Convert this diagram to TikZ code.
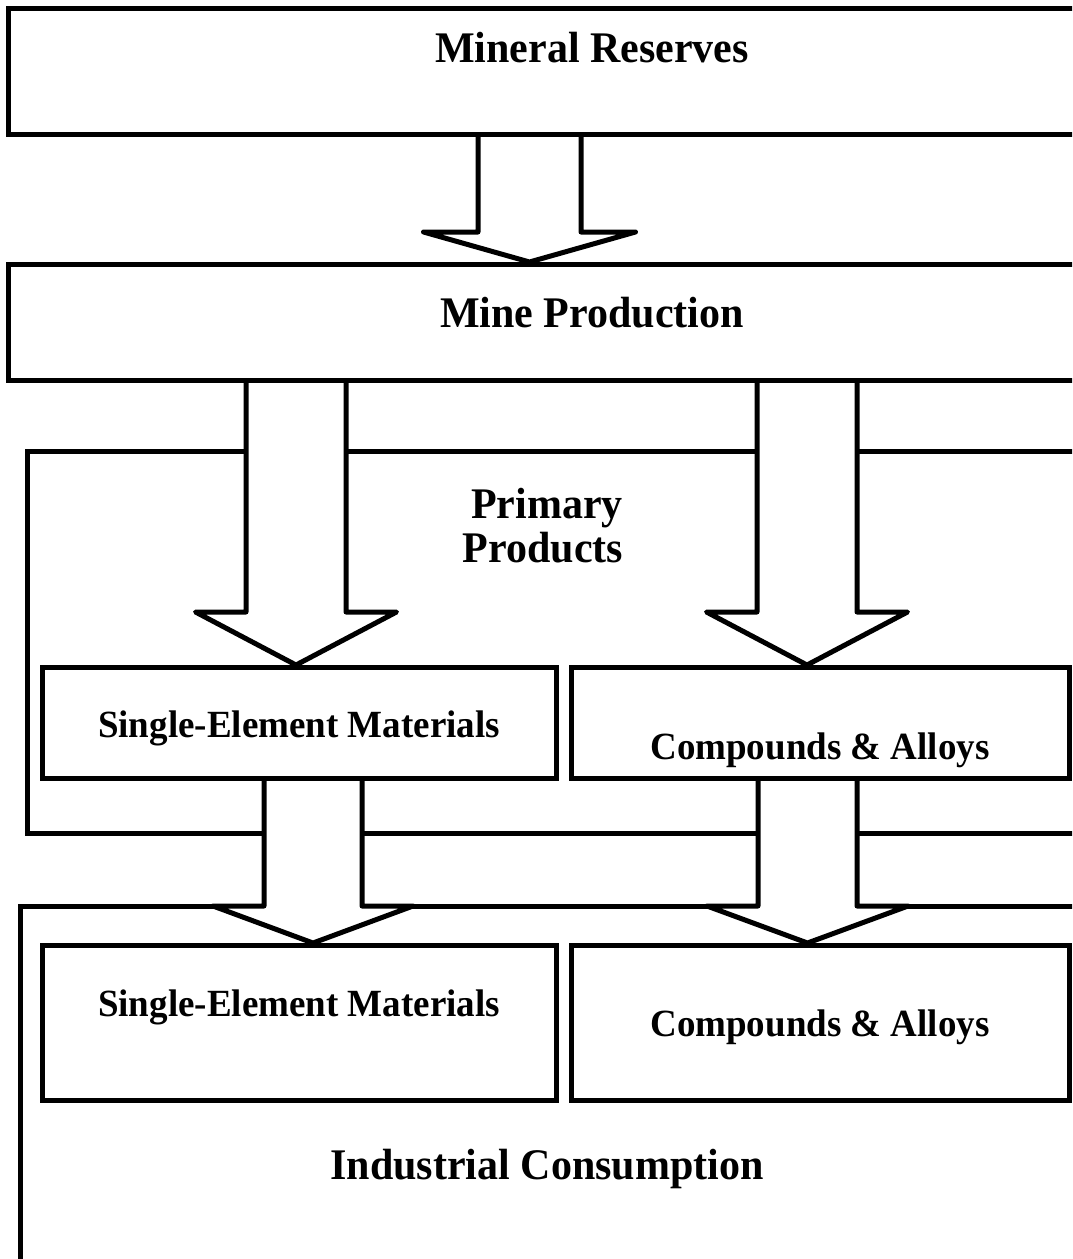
\documentclass[tikz,border=0pt]{standalone}
\usepackage{fontspec}
\setmainfont{Liberation Serif}
\newcommand\blkarrow[6]{% center x, top y, head y, tip y, half shaft, half head
  \fill[white] ({#1-#5},{#2+3}) -- ({#1-#5},#3) -- ({#1-#6},#3) -- (#1,#4) -- ({#1+#6},#3) -- ({#1+#5},#3) -- ({#1+#5},{#2+3}) -- cycle;
  \draw[arrowline] ({#1-#5},#2) -- ({#1-#5},#3) -- ({#1-#6},#3) -- (#1,#4) -- ({#1+#6},#3) -- ({#1+#5},#3) -- ({#1+#5},#2);
}
\begin{document}
\begin{tikzpicture}[x=1pt,y=-1pt,
  frame/.style={draw, line width=5pt},
  box/.style={draw, line width=5pt, inner sep=0pt, fill=white},
  arrowline/.style={line width=5pt, line join=round},
  lbl/.style={font=\bfseries\fontsize{42}{43}\selectfont, anchor=base, inner sep=0pt, yscale=1.04},
  slbl/.style={font=\bfseries\fontsize{37}{38}\selectfont, anchor=base, inner sep=0pt, yscale=1.04}]
\useasboundingbox (0,0) rectangle (1072,1259);
\clip (0,0) rectangle (1072,1259);
\fill[white] (0,0) rectangle (1072,1259);

% large frames (cut off at the right / bottom)
\draw[frame] (8,8) rectangle (1110,134);
\draw[frame] (8,264.5) rectangle (1110,380.5);
\draw[frame] (27,451) rectangle (1110,833);
\draw[frame] (20,906) rectangle (1110,1320);

% small boxes
\node[box, minimum width=514pt, minimum height=111pt] (se1) at (299,722.5) {};
\node[box, minimum width=498pt, minimum height=111pt] (ca1) at (820,722.5) {};
\node[box, minimum width=514pt, minimum height=155pt] (se2) at (299,1022.5) {};
\node[box, minimum width=498pt, minimum height=155pt] (ca2) at (820,1022.5) {};

% labels
\node[lbl] (mr) at (592,62) {Mineral Reserves};
\node[lbl] (mp) at (592,327) {Mine Production};
\node[lbl] (pp1) at (547,518) {Primary};
\node[lbl] (pp2) at (543,562) {Products};
\node[slbl] (t1) at (299,737) {Single-Element Materials};
\node[slbl] (t2) at (820,759) {Compounds \& Alloys};
\node[slbl] (t3) at (299,1016) {Single-Element Materials};
\node[slbl] (t4) at (820,1036) {Compounds \& Alloys};
\node[lbl] (ic) at (547,1179) {Industrial Consumption};

% block arrows
\blkarrow{529.5}{134}{232}{262}{51.5}{106}
\blkarrow{296}{380.5}{612}{665}{50}{100.5}
\blkarrow{807}{380.5}{612}{665}{50}{100.5}
\blkarrow{313}{778}{906}{943}{49}{100}
\blkarrow{807.5}{778}{906}{943}{49.5}{100.5}
\end{tikzpicture}
\end{document}
